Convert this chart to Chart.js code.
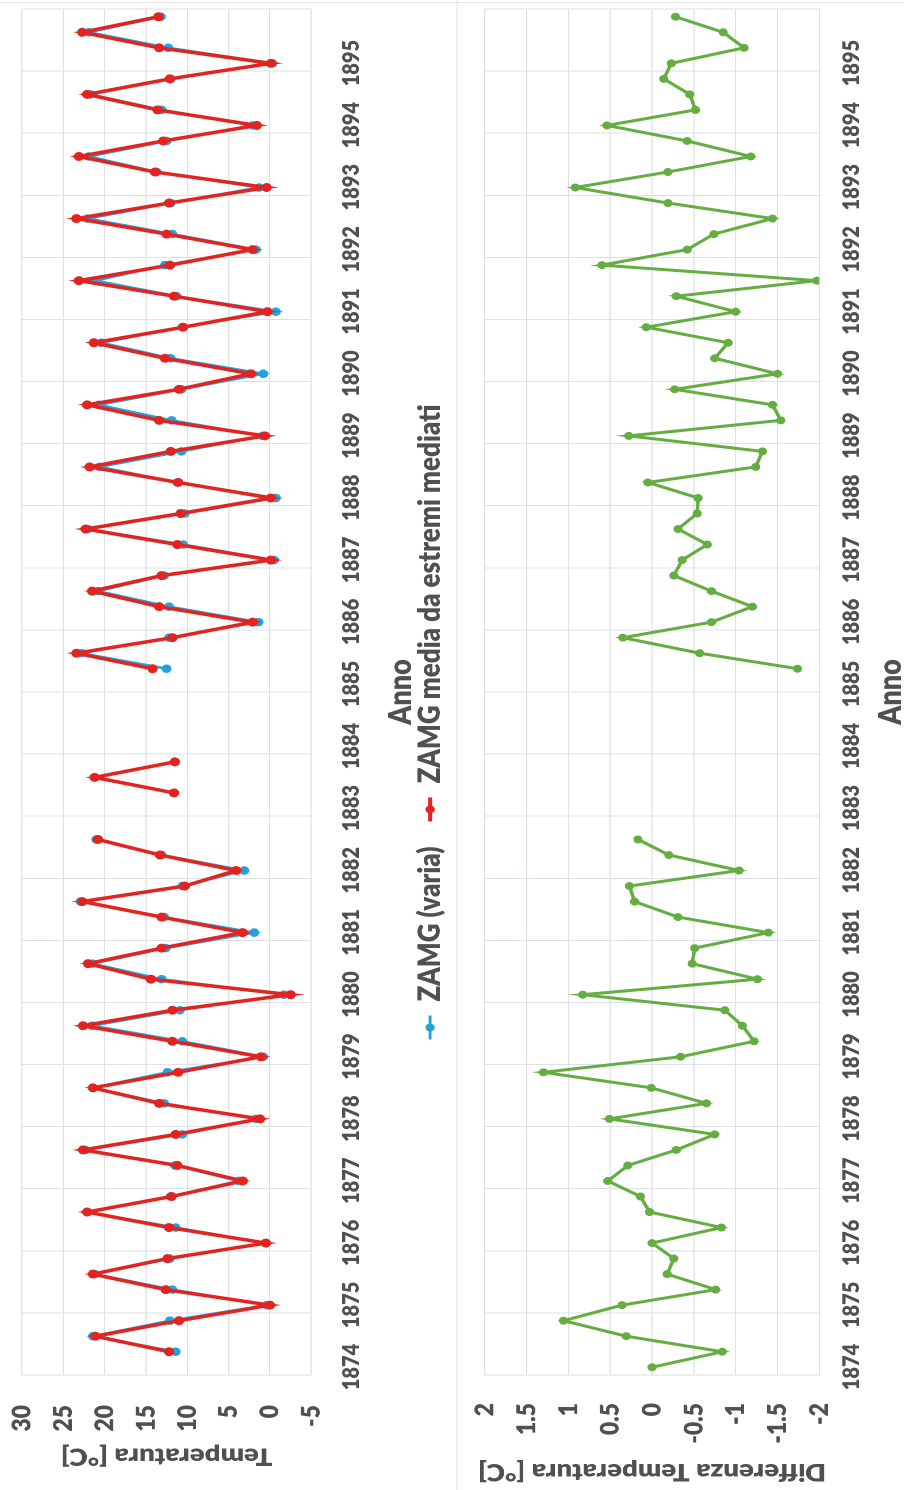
<!DOCTYPE html>
<html lang="it">
<head>
<meta charset="utf-8">
<title>ZAMG – temperature stagionali 1874–1895</title>
<script src="https://cdn.jsdelivr.net/npm/chart.js@4.4.1/dist/chart.umd.min.js"></script>
<style>
  html, body { margin:0; padding:0; background:#fff; width:904px; height:1490px; overflow:hidden; }
  /* the sheet is laid out landscape and turned a quarter to stand upright */
  #sheet { position:absolute; left:0; top:0; width:1490px; height:786px; background:#fff;
           transform-origin:0 0; transform:translateY(1490px) rotate(-90deg) scaleY(1.15); }
  .panel { position:absolute; left:0; width:1490px; }
  #panelTop { top:0; height:397px; }
  #panelBottom { top:397px; height:389px; }
  .rule { position:absolute; background:#e2e2e2; }
  canvas { display:block; }
</style>
</head>
<body>
<div id="sheet">
  <div class="rule" style="left:0;top:397px;width:1490px;height:1px"></div>
  <div class="rule" style="left:1487px;top:0;width:1px;height:786px"></div>
  <div class="panel" id="panelTop"><canvas id="chartTemp" width="1490" height="397"></canvas></div>
  <div class="panel" id="panelBottom"><canvas id="chartDiff" width="1490" height="389"></canvas></div>
</div>
<script>
// Seasonal means, four per year: inverno, primavera, estate, autunno (1874–1895).
const START_YEAR = 1874;
const END_YEAR = 1896;
const QUARTERS = 4;

const annoLabels = ['1874','1875','1876','1877','1878','1879','1880','1881','1882','1883','1884',
                    '1885','1886','1887','1888','1889','1890','1891','1892','1893','1894','1895'];

const zamgVaria = [
  /*1874*/ null, 11.4, 21.4, 12.1,
  /*1875*/ 0.4, 11.8, 21.2, 12.1,
  /*1876*/ 0.5, 11.4, 22.1, 12.0,
  /*1877*/ 3.8, 11.5, 22.3, 10.6,
  /*1878*/ 1.7, 12.8, 21.4, 12.4,
  /*1879*/ 0.8, 10.6, 21.5, 10.9,
  /*1880*/ -1.7, 13.1, 21.5, 12.6,
  /*1881*/ 1.9, 12.8, 22.9, 10.6,
  /*1882*/ 3.1, 13.1, 21.0, null,
  /*1883*/ null, null, null, null,
  /*1884*/ null, null, null, null,
  /*1885*/ null, 12.5, 22.8, 12.2,
  /*1886*/ 1.4, 12.2, 20.8, 12.8,
  /*1887*/ -0.5, 10.5, 22.0, 10.3,
  /*1888*/ -0.7, 11.2, 20.6, 10.7,
  /*1889*/ 0.9, 11.9, 20.7, 10.7,
  /*1890*/ 0.8, 12.0, 20.4, 10.6,
  /*1891*/ -0.7, 11.3, 21.1, 12.7,
  /*1892*/ 1.7, 11.8, 22.0, 12.0,
  /*1893*/ 1.3, 13.7, 21.9, 12.5,
  /*1894*/ 2.1, 13.1, 21.7, 12.0,
  /*1895*/ -0.3, 12.3, 21.9, 13.2
];

const zamgMedia = [
  /*1874*/ null, 12.2, 21.1, 11.0,
  /*1875*/ 0.0, 12.6, 21.4, 12.4,
  /*1876*/ 0.5, 12.2, 22.1, 11.9,
  /*1877*/ 3.3, 11.2, 22.6, 11.4,
  /*1878*/ 1.2, 13.4, 21.4, 11.1,
  /*1879*/ 1.1, 11.8, 22.6, 11.8,
  /*1880*/ -2.5, 14.4, 22.0, 13.1,
  /*1881*/ 3.3, 13.1, 22.7, 10.3,
  /*1882*/ 4.1, 13.3, 20.8, null,
  /*1883*/ null, 11.6, 21.2, 11.5,
  /*1884*/ null, null, null, null,
  /*1885*/ null, 14.2, 23.4, 11.8,
  /*1886*/ 2.1, 13.4, 21.5, 13.1,
  /*1887*/ -0.1, 11.2, 22.3, 10.8,
  /*1888*/ -0.1, 11.1, 21.8, 12.0,
  /*1889*/ 0.6, 13.4, 22.1, 11.0,
  /*1890*/ 2.3, 12.7, 21.3, 10.5,
  /*1891*/ 0.3, 11.6, 23.1, 12.1,
  /*1892*/ 2.1, 12.5, 23.4, 12.2,
  /*1893*/ 0.4, 13.9, 23.1, 12.9,
  /*1894*/ 1.6, 13.6, 22.1, 12.1,
  /*1895*/ -0.1, 13.4, 22.7, 13.5
];

const differenza = [
  /*1874*/ 0.00, -0.84, 0.31, 1.06,
  /*1875*/ 0.36, -0.76, -0.18, -0.26,
  /*1876*/ 0.00, -0.83, 0.03, 0.14,
  /*1877*/ 0.53, 0.29, -0.29, -0.75,
  /*1878*/ 0.51, -0.65, 0.01, 1.30,
  /*1879*/ -0.34, -1.22, -1.08, -0.87,
  /*1880*/ 0.83, -1.26, -0.48, -0.51,
  /*1881*/ -1.39, -0.31, 0.21, 0.27,
  /*1882*/ -1.04, -0.20, 0.17, null,
  /*1883*/ null, null, null, null,
  /*1884*/ null, null, null, null,
  /*1885*/ null, -1.74, -0.57, 0.35,
  /*1886*/ -0.71, -1.20, -0.71, -0.26,
  /*1887*/ -0.36, -0.66, -0.31, -0.54,
  /*1888*/ -0.55, 0.05, -1.24, -1.32,
  /*1889*/ 0.28, -1.54, -1.44, -0.27,
  /*1890*/ -1.50, -0.75, -0.91, 0.07,
  /*1891*/ -1.00, -0.29, -1.97, 0.60,
  /*1892*/ -0.42, -0.74, -1.44, -0.19,
  /*1893*/ 0.92, -0.19, -1.18, -0.42,
  /*1894*/ 0.54, -0.52, -0.45, -0.14,
  /*1895*/ -0.23, -1.10, -0.85, -0.28
];

const tempTicks = { min: -5, max: 30, step: 5 };
const diffTicks = { min: -2, max: 2, step: 0.5 };

const BLUE = '#27a1db';
const RED = '#e2231f';
const GREEN = '#64ad41';
const GRID = '#dde0e4';
const INK = '#505050';
const FAMILY = 'Lato, "Open Sans", sans-serif';
const WEIGHT = 800;

// each season sits in the middle of its quarter of the year
const toPoints = values => values.map((v, i) => ({ x: START_YEAR + (i + 0.5) / QUARTERS, y: v }));

// line-with-dot legend key, drawn at the right end of its box
function legendKey(color, lineWidth) {
  const s = 2, w = 40, h = 12;
  const c = document.createElement('canvas');
  c.width = w * s; c.height = h * s;
  const g = c.getContext('2d');
  g.scale(s, s);
  g.strokeStyle = color; g.lineWidth = lineWidth;
  g.beginPath(); g.moveTo(15, h / 2); g.lineTo(39, h / 2); g.stroke();
  g.fillStyle = color;
  g.beginPath(); g.arc(27, h / 2, 4, 0, Math.PI * 2); g.fill();
  const img = new Image(w, h);
  img.src = c.toDataURL();
  return img;
}

function yearAxis(height, tickPad, titleLift) {
  return {
    type: 'linear',
    min: START_YEAR, max: END_YEAR,
    ticks: {
      stepSize: 1, autoSkip: false, maxRotation: 0, minRotation: 0,
      labelOffset: 8, padding: tickPad,
      color: INK, font: { family: FAMILY, size: 20, weight: WEIGHT },
      callback: v => annoLabels[v - START_YEAR] ?? ''
    },
    grid: { color: GRID, lineWidth: 1, drawTicks: false },
    border: { color: GRID },
    title: { display: true, text: 'Anno', color: INK, padding: { top: 0, bottom: titleLift },
             font: { family: FAMILY, size: 27, weight: WEIGHT } },
    afterFit: scale => {
      scale.height = height;
      scale.paddingLeft = 0; scale.paddingRight = 0;
    }
  };
}

function valueAxis(t, titleText, width, tickPad, titleTop) {
  return {
    min: t.min, max: t.max,
    ticks: {
      stepSize: t.step, padding: tickPad,
      color: INK, font: { family: FAMILY, size: 23, weight: WEIGHT },
      callback: v => String(Math.round(v * 10) / 10)
    },
    grid: { color: GRID, lineWidth: 1, drawTicks: false },
    border: { color: GRID },
    title: { display: true, text: titleText, color: INK, padding: { top: titleTop, bottom: 0 },
             font: { family: FAMILY, size: 24, weight: WEIGHT } },
    afterFit: scale => {
      scale.width = width;
      scale.paddingTop = 0; scale.paddingBottom = 0;
    }
  };
}

function lineSet(label, values, color, width, radius, order) {
  return {
    label, data: toPoints(values), order,
    borderColor: color, backgroundColor: color, borderWidth: width,
    pointRadius: radius, pointBackgroundColor: color, pointBorderColor: color, pointBorderWidth: 1,
    pointHoverRadius: radius, tension: 0, spanGaps: false
  };
}

function draw(keys) {
  Chart.defaults.font.family = FAMILY;

  new Chart(document.getElementById('chartTemp'), {
    type: 'line',
    data: {
      datasets: [
        lineSet('ZAMG (varia)', zamgVaria, BLUE, 2.5, 3.8, 1),
        lineSet('ZAMG media da estremi mediati', zamgMedia, RED, 3.5, 4, 0)
      ]
    },
    options: {
      responsive: false, animation: false, devicePixelRatio: 2,
      layout: { padding: { top: 19, right: 9, left: 40, bottom: 0 } },
      plugins: {
        tooltip: { enabled: false },
        legend: {
          position: 'bottom', fullSize: true,
          labels: {
            usePointStyle: true, pointStyleWidth: 40, padding: 10,
            color: INK, font: { family: FAMILY, size: 26, weight: WEIGHT },
            generateLabels: chart => chart.data.datasets.map((ds, i) => ({
              text: ds.label, datasetIndex: i, pointStyle: keys[i],
              fillStyle: ds.borderColor, strokeStyle: ds.borderColor, lineWidth: 0,
              fontColor: INK, hidden: false
            }))
          }
        }
      },
      scales: {
        x: yearAxis(80.3, 23, -13.9),
        y: valueAxis(tempTicks, 'Temperatura [°C]', 75, 30, -20.4)
      }
    }
  });

  new Chart(document.getElementById('chartDiff'), {
    type: 'line',
    data: {
      datasets: [ lineSet('Differenza', differenza, GREEN, 3, 3.5, 0) ]
    },
    options: {
      responsive: false, animation: false, devicePixelRatio: 2,
      layout: { padding: { top: 24.7, right: 9, left: 0, bottom: 0 } },
      plugins: { tooltip: { enabled: false }, legend: { display: false } },
      scales: {
        x: yearAxis(73.6, 16, -5),
        y: valueAxis(diffTicks, 'Differenza Temperatura [°C]', 115, 28, 4.1)
      }
    }
  });
}

const keys = [legendKey(BLUE, 2.5), legendKey(RED, 3.5)];
Promise.all([
  document.fonts.load('800 20px Lato'),
  ...keys.map(k => k.decode())
]).catch(() => null).finally(() => draw(keys));
</script>
</body>
</html>
